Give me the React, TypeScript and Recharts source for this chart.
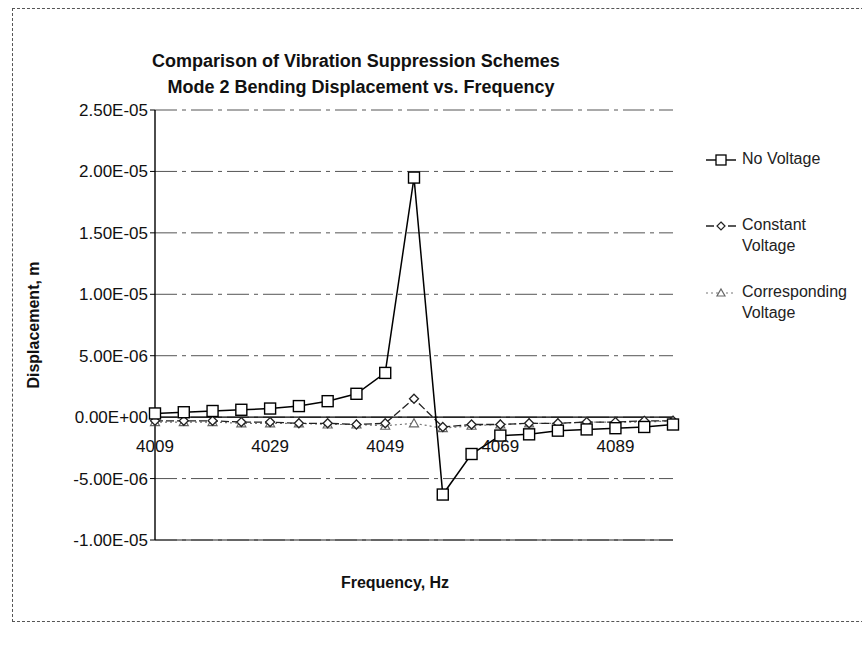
import React from "react";
import {
  LineChart,
  Line,
  XAxis,
  YAxis,
  CartesianGrid,
  ReferenceLine,
} from "recharts";

// frequency categories, Hz
const frequencies = [
  "4009", "4014", "4019", "4024", "4029", "4034", "4039", "4044", "4049", "4054",
  "4059", "4064", "4069", "4074", "4079", "4084", "4089", "4094", "4099",
];

// displacement, m
const noVoltage = [
  3e-7, 4e-7, 5e-7, 6e-7, 7e-7, 9e-7, 1.3e-6, 1.9e-6, 3.6e-6, 1.95e-5,
  -6.3e-6, -3.0e-6, -1.5e-6, -1.4e-6, -1.1e-6, -1.0e-6, -9e-7, -8e-7, -6e-7,
];
const constantVoltage = [
  -3e-7, -3e-7, -3e-7, -4e-7, -4e-7, -5e-7, -5e-7, -6e-7, -5e-7, 1.5e-6,
  -8e-7, -6e-7, -6e-7, -5e-7, -5e-7, -4e-7, -4e-7, -3e-7, -3e-7,
];
const correspondingVoltage = [
  -4e-7, -4e-7, -4e-7, -5e-7, -5e-7, -5e-7, -6e-7, -6e-7, -7e-7, -5e-7,
  -9e-7, -7e-7, -6e-7, -5e-7, -5e-7, -4e-7, -4e-7, -4e-7, -3e-7,
];

const yTicks = [-1e-5, -5e-6, 0, 5e-6, 1e-5, 1.5e-5, 2e-5, 2.5e-5];

const data = frequencies.map((f, i) => ({
  freq: f,
  none: noVoltage[i],
  constant: constantVoltage[i],
  corresponding: correspondingVoltage[i],
}));

const FONT = "'Liberation Sans', Arial, sans-serif";
const W = 862;
const H = 648;
const PLOT_TOP = 110;
const PLOT_BOTTOM = 540;
const PLOT_LEFT = 155;
const PLOT_RIGHT = 673;
const Y_AXIS_W = 110;
const X_AXIS_H = 30;
const Y_MIN = -1e-5;
const Y_MAX = 2.5e-5;
const ZERO_Y =
  PLOT_TOP + ((PLOT_BOTTOM - PLOT_TOP) * Y_MAX) / (Y_MAX - Y_MIN);

function sci(v: number) {
  const [m, e] = v.toExponential(2).split("e");
  const sign = e[0] === "-" ? "-" : "+";
  const digits = e.replace(/[-+]/, "").padStart(2, "0");
  return `${m}E${sign}${digits}`;
}

const SquareDot = (props: any) => {
  const { cx, cy, index } = props;
  if (cx == null || cy == null) return null;
  return (
    <rect
      key={`sq-${index}`}
      x={cx - 5.5}
      y={cy - 5.5}
      width={11}
      height={11}
      fill="#fff"
      stroke="#000"
      strokeWidth={1.4}
    />
  );
};

const DiamondDot = (props: any) => {
  const { cx, cy, index } = props;
  if (cx == null || cy == null) return null;
  return (
    <path
      key={`di-${index}`}
      d={`M${cx},${cy - 4.5}L${cx + 4.5},${cy}L${cx},${cy + 4.5}L${cx - 4.5},${cy}Z`}
      fill="#fff"
      stroke="#222"
      strokeWidth={1.3}
    />
  );
};

const TriangleDot = (props: any) => {
  const { cx, cy, index } = props;
  if (cx == null || cy == null) return null;
  return (
    <path
      key={`tr-${index}`}
      d={`M${cx},${cy - 4.5}L${cx + 4.5},${cy + 3.5}L${cx - 4.5},${cy + 3.5}Z`}
      fill="#fff"
      stroke="#666"
      strokeWidth={1.2}
    />
  );
};

// category labels sit under the zero line, like the Excel axis crossing
const FreqTick = (props: any) => {
  const { x, payload } = props;
  return (
    <text
      x={x}
      y={ZERO_Y + 35}
      textAnchor="middle"
      fontFamily={FONT}
      fontSize={17}
      fill="#111"
    >
      {payload.value}
    </text>
  );
};

const legendItems = [
  { lines: ["No Voltage"], top: 148, kind: "square" },
  { lines: ["Constant", "Voltage"], top: 214, kind: "diamond" },
  { lines: ["Corresponding", "Voltage"], top: 281, kind: "triangle" },
];

const LegendIcon = ({ kind }: { kind: string }) => {
  if (kind === "square") {
    return (
      <svg width={30} height={14}>
        <line x1={0} y1={7} x2={30} y2={7} stroke="#000" strokeWidth={1.4} />
        <rect x={10} y={2} width={10} height={10} fill="#fff" stroke="#000" strokeWidth={1.3} />
      </svg>
    );
  }
  if (kind === "diamond") {
    return (
      <svg width={30} height={14}>
        <line x1={0} y1={7} x2={30} y2={7} stroke="#222" strokeWidth={1.3} strokeDasharray="8 3" />
        <path d="M15,3L19,7L15,11L11,7Z" fill="#fff" stroke="#222" strokeWidth={1.2} />
      </svg>
    );
  }
  return (
    <svg width={30} height={14}>
      <line x1={0} y1={7} x2={30} y2={7} stroke="#777" strokeWidth={1.2} strokeDasharray="2 3" />
      <path d="M15,3L19,10L11,10Z" fill="#fff" stroke="#666" strokeWidth={1.2} />
    </svg>
  );
};

const LegendBox = () => (
  <div style={{ position: "absolute", left: 706, top: 140, width: 156, height: 200 }}>
    {legendItems.map((it) => (
      <div
        key={it.lines[0]}
        style={{
          position: "absolute",
          left: 0,
          top: it.top - 140,
          display: "flex",
          alignItems: "flex-start",
          fontFamily: FONT,
          fontSize: 16,
          color: "#222",
          lineHeight: "21px",
        }}
      >
        <div style={{ marginTop: 3, marginRight: 6 }}>
          <LegendIcon kind={it.kind} />
        </div>
        <div>
          {it.lines.map((l) => (
            <div key={l}>{l}</div>
          ))}
        </div>
      </div>
    ))}
  </div>
);

export default function App() {
  return (
    <div
      style={{
        position: "absolute",
        left: 0,
        top: 0,
        width: W,
        height: H,
        overflow: "hidden",
        background: "#fff",
      }}
    >
      <div
        style={{
          position: "absolute",
          left: 12,
          top: 8,
          width: 900,
          height: 612,
          border: "1px dashed #555",
        }}
      />
      <div
        style={{
          position: "absolute",
          left: 0,
          width: W,
          top: 48,
          textAlign: "center",
          fontFamily: FONT,
          fontWeight: "bold",
          fontSize: 18,
          lineHeight: "26px",
          color: "#111",
        }}
      >
        <div style={{ marginLeft: -150 }}>Comparison of Vibration Suppression Schemes</div>
        <div style={{ marginLeft: -140 }}>Mode 2 Bending Displacement vs. Frequency</div>
      </div>
      <div style={{ position: "absolute", left: 0, top: 0 }}>
        <LineChart
          width={W}
          height={H}
          data={data}
          margin={{
            top: PLOT_TOP,
            right: W - PLOT_RIGHT,
            left: PLOT_LEFT - Y_AXIS_W,
            bottom: H - PLOT_BOTTOM - X_AXIS_H,
          }}
        >
          <CartesianGrid
            vertical={false}
            stroke="#555"
            strokeDasharray="22 5 4 5"
          />
          <XAxis
            dataKey="freq"
            interval={3}
            axisLine={false}
            tickLine={false}
            height={X_AXIS_H}
            tick={<FreqTick />}
          />
          <YAxis
            domain={[Y_MIN, Y_MAX]}
            ticks={yTicks}
            width={Y_AXIS_W}
            tickFormatter={sci}
            axisLine={{ stroke: "#000", strokeWidth: 1.4 }}
            tickLine={{ stroke: "#000" }}
            tickSize={5}
            tick={{ fontFamily: FONT, fontSize: 17, fill: "#111" }}
            label={{
              value: "Displacement, m",
              angle: -90,
              position: "insideLeft",
              offset: -12,
              style: {
                fontFamily: FONT,
                fontWeight: "bold",
                fontSize: 16,
                fill: "#111",
                textAnchor: "middle",
              },
            }}
          />
          <ReferenceLine y={Y_MIN} stroke="#222" strokeWidth={1.2} />
          <ReferenceLine y={0} stroke="#000" strokeWidth={1.4} />
          <Line
            type="linear"
            dataKey="corresponding"
            name="Corresponding Voltage"
            stroke="#777"
            strokeWidth={1.2}
            strokeDasharray="2 3"
            dot={TriangleDot}
            isAnimationActive={false}
          />
          <Line
            type="linear"
            dataKey="constant"
            name="Constant Voltage"
            stroke="#222"
            strokeWidth={1.3}
            strokeDasharray="8 3"
            dot={DiamondDot}
            isAnimationActive={false}
          />
          <Line
            type="linear"
            dataKey="none"
            name="No Voltage"
            stroke="#000"
            strokeWidth={1.5}
            dot={SquareDot}
            isAnimationActive={false}
          />
        </LineChart>
      </div>
      <LegendBox />
      <div
        style={{
          position: "absolute",
          left: 0,
          width: 790,
          top: 574,
          textAlign: "center",
          fontFamily: FONT,
          fontWeight: "bold",
          fontSize: 16,
          color: "#111",
        }}
      >
        Frequency, Hz
      </div>
    </div>
  );
}
